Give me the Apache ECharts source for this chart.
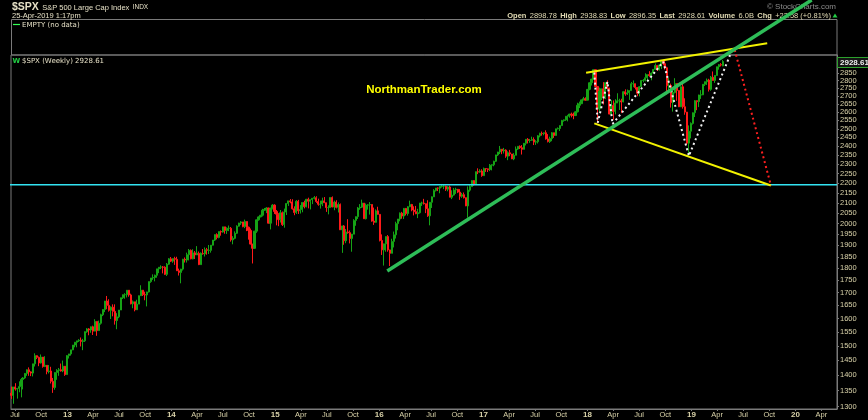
<!DOCTYPE html>
<html><head><meta charset="utf-8">
<script src="https://cdn.jsdelivr.net/npm/echarts@6/dist/echarts.min.js"></script>
<style>html,body{margin:0;padding:0;background:#000}#c{width:868px;height:420px}</style>
</head><body><div id="c"></div>
<script>
// ---- weekly S&P 500 data (weeks starting Monday 2012-06-18) ----
const firstWeek = '2012-06-18';
const firstOpen = 1342;
const lastWeekOpen = 2898.78;
const weeklyClose = [
 1335,1362,1355,1357,1363,1386,1391,1406,1418,1411,1407,1438,1466,1460,1441,1461,1429,1433,1412,1414,1380,1360,1409,1416,1418,1414,1430,1402,
 1466,1472,1486,1503,1513,1518,1520,1516,1518,1551,1561,1557,1569,1553,1589,1555,1582,1614,1634,1667,1650,1631,1643,1627,1592,1606,1632,1680,1692,1692,1710,1691,1656,1664,1633,1655,1688,1710,1692,1691,1703,1745,1760,1762,1771,1798,1805,1806,1805,1775,1818,1841,
 1831,1842,1839,1790,1783,1797,1839,1836,1859,1878,1841,1867,1858,1865,1816,1865,1863,1881,1878,1878,1901,1924,1949,1936,1963,1961,1985,1968,1978,1978,1925,1932,1955,1988,2003,2008,1986,2010,1983,1968,1906,1887,1965,2018,2032,2040,2064,2068,2075,2002,2071,2089,
 2058,2045,2019,2052,1995,2055,2097,2110,2105,2071,2053,2108,2061,2067,2102,2081,2118,2108,2116,2123,2126,2107,2093,2094,2110,2101,2077,2077,2127,2080,2104,2078,2092,1971,1989,1921,1961,1958,1931,1951,2015,2033,2075,2079,2099,2023,2089,2090,2092,2012,2006,2061,2044,
 1922,1880,1907,1940,1880,1865,1918,1948,2000,2022,2050,2036,2073,2048,2081,2092,2065,2057,2047,2052,2099,2099,2096,2071,2037,2103,2130,2162,2175,2174,2183,2184,2184,2169,2180,2128,2139,2165,2168,2154,2133,2141,2126,2085,2164,2182,2213,2192,2260,2258,2264,2239,
 2277,2275,2271,2295,2297,2316,2351,2367,2383,2373,2378,2344,2363,2356,2329,2349,2384,2399,2391,2382,2416,2439,2432,2433,2438,2423,2425,2459,2473,2472,2477,2441,2426,2443,2477,2461,2500,2502,2519,2549,2553,2575,2581,2588,2582,2579,2602,2642,2652,2676,2683,2674,
 2743,2786,2810,2873,2762,2620,2732,2747,2691,2787,2752,2588,2641,2604,2656,2670,2670,2663,2728,2713,2721,2735,2779,2780,2755,2718,2760,2801,2802,2819,2840,2833,2850,2875,2902,2872,2905,2930,2914,2886,2767,2768,2659,2723,2781,2736,2633,2760,2633,2600,2417,2486,
 2532,2596,2671,2665,2707,2708,2776,2793,2804,2743,2822,2801,2834,2893,2907,2905,2928.61
];
const weeklyHigh = [
 1363,1362,1374,1357,1380,1391,1394,1407,1419,1426,1413,1438,1474,1467,1463,1470,1461,1464,1434,1434,1428,1391,1409,1420,1424,1439,1449,1430,
 1468,1472,1486,1503,1514,1518,1524,1530,1525,1552,1564,1564,1570,1573,1597,1589,1592,1618,1635,1667,1687,1674,1646,1654,1654,1620,1632,1680,1693,1698,1710,1709,1696,1669,1664,1672,1689,1730,1711,1704,1704,1745,1760,1775,1774,1798,1805,1813,1810,1809,1823,1844,
 1849,1843,1850,1850,1799,1798,1841,1847,1868,1884,1882,1883,1875,1897,1873,1869,1884,1891,1889,1902,1901,1924,1950,1955,1963,1968,1985,1984,1983,1991,1984,1942,1964,1992,2004,2012,2008,2019,2010,1986,1977,1906,1965,2018,2034,2041,2071,2075,2079,2076,2077,2094,
 2093,2065,2049,2065,2058,2072,2097,2110,2119,2118,2083,2114,2115,2089,2103,2111,2120,2126,2117,2124,2134,2133,2121,2111,2126,2129,2100,2088,2127,2132,2111,2113,2102,2097,1990,1993,1975,2021,1968,1952,2021,2034,2080,2094,2116,2093,2097,2094,2104,2090,2077,2068,2081,
 2038,1950,1908,1940,1947,1881,1930,1963,2009,2022,2053,2056,2075,2075,2084,2111,2095,2083,2085,2071,2100,2106,2120,2091,2113,2103,2132,2169,2175,2178,2183,2194,2191,2187,2184,2187,2163,2175,2176,2170,2169,2150,2152,2126,2183,2189,2214,2215,2260,2278,2273,2273,
 2282,2279,2277,2301,2299,2319,2352,2368,2401,2383,2390,2382,2371,2379,2356,2361,2398,2399,2404,2406,2418,2440,2446,2441,2454,2450,2434,2463,2477,2484,2478,2491,2469,2454,2480,2475,2500,2508,2520,2553,2555,2576,2582,2589,2597,2597,2605,2658,2665,2676,2695,2692,
 2743,2787,2811,2873,2870,2763,2754,2747,2790,2787,2802,2753,2674,2672,2680,2718,2683,2683,2732,2743,2742,2736,2791,2801,2775,2757,2764,2804,2810,2849,2840,2863,2854,2877,2916,2898,2907,2934,2940,2939,2893,2817,2780,2756,2816,2781,2735,2763,2800,2686,2601,2520,
 2538,2598,2675,2672,2709,2738,2776,2794,2814,2812,2831,2861,2836,2893,2911,2918,2938.83
];
const weeklyLow = [
 1324,1309,1350,1325,1345,1329,1354,1388,1398,1398,1397,1396,1429,1454,1430,1439,1425,1427,1403,1406,1373,1343,1353,1385,1398,1412,1410,1398,
 1402,1456,1466,1485,1495,1495,1514,1498,1485,1514,1547,1538,1547,1539,1553,1536,1554,1577,1609,1624,1635,1626,1598,1608,1577,1560,1601,1632,1675,1676,1681,1684,1654,1639,1627,1633,1655,1687,1687,1670,1646,1701,1740,1752,1746,1761,1780,1797,1779,1772,1768,1815,
 1827,1824,1815,1790,1770,1738,1791,1825,1825,1834,1839,1839,1840,1858,1814,1816,1859,1851,1859,1862,1868,1900,1920,1927,1932,1944,1958,1953,1952,1965,1917,1905,1928,1952,1986,1994,1983,1979,1965,1926,1905,1821,1886,1957,2014,2030,2034,2062,2050,2002,1973,2069,
 2046,1992,1988,2005,1989,1981,2041,2085,2098,2067,2040,2046,2046,2048,2054,2073,2078,2073,2068,2094,2117,2100,2086,2072,2084,2099,2056,2044,2077,2078,2064,2073,2053,1970,1867,1903,1910,1953,1909,1872,1951,1990,2022,2066,2075,2022,2020,2067,2043,2009,1994,2005,2043,
 1918,1858,1812,1872,1872,1810,1865,1891,1931,1969,2011,2023,2022,2039,2038,2079,2059,2039,2045,2026,2048,2085,2092,2050,2032,1992,2075,2131,2157,2159,2148,2177,2169,2160,2158,2128,2119,2136,2145,2149,2115,2125,2122,2084,2028,2156,2183,2187,2192,2247,2254,2233,
 2245,2259,2258,2263,2267,2289,2312,2345,2356,2355,2359,2335,2322,2344,2328,2322,2374,2379,2384,2353,2382,2404,2415,2419,2431,2406,2407,2415,2450,2460,2462,2437,2421,2418,2428,2447,2465,2496,2487,2520,2542,2547,2544,2566,2568,2557,2576,2598,2625,2652,2673,2672,
 2683,2737,2768,2808,2759,2533,2605,2675,2647,2681,2742,2586,2594,2553,2586,2660,2613,2594,2661,2702,2707,2676,2735,2757,2742,2699,2698,2770,2789,2795,2791,2826,2802,2848,2876,2864,2868,2877,2903,2874,2711,2724,2628,2603,2717,2670,2631,2631,2621,2584,2409,2347,
 2444,2525,2570,2612,2631,2682,2706,2765,2772,2729,2734,2800,2785,2848,2873,2895,2896.35
];

// ---- axis ticks ----
const priceTicks = [1300,1350,1400,1450,1500,1550,1600,1650,1700,1750,1800,1850,1900,1950,2000,2050,2100,2150,2200,2250,2300,2350,2400,2450,2500,2550,2600,2650,2700,2750,2800,2850,2900];
const dateTicks = ['2012-07-01','2012-10-01','2013-01-01','2013-04-01','2013-07-01','2013-10-01','2014-01-01','2014-04-01','2014-07-01','2014-10-01','2015-01-01','2015-04-01','2015-07-01','2015-10-01','2016-01-01','2016-04-01','2016-07-01','2016-10-01','2017-01-01','2017-04-01','2017-07-01','2017-10-01','2018-01-01','2018-04-01','2018-07-01','2018-10-01','2019-01-01','2019-04-01','2019-07-01','2019-10-01','2020-01-01','2020-04-01'];
const monthNames = ['Jan','Feb','Mar','Apr','May','Jun','Jul','Aug','Sep','Oct','Nov','Dec'];
const xRange = ['2012-06-17','2020-05-26'];
const priceRange = [1293, 2974];

// ---- drawn annotations (date, price) ----
const supportLine = [['2012-05-08',2191],['2020-05-26',2191]];
const greenTrend = [['2016-01-29',1789],['2020-02-27',3385]];
const upperWedge = [['2017-12-27',2853],['2019-09-24',3057]];
const lowerWedge = [['2018-01-25',2532],['2019-10-07',2188]];
const whitePath = [['2018-01-25',2853],['2018-02-06',2536],['2018-03-12',2793],['2018-03-30',2528],['2018-09-24',2927],['2018-12-23',2345],['2019-05-20',2990]];
const redPath = [['2019-06-02',3009],['2019-10-07',2188]];

const UP = '#16a316', DOWN = '#ff1a1a';
const DAY = 86400000;
const t0 = Date.parse(firstWeek);
const candles = weeklyClose.map((c, i) => {
  let o = i === 0 ? firstOpen : weeklyClose[i - 1];
  if (i === weeklyClose.length - 1) o = lastWeekOpen;
  const h = Math.max(weeklyHigh[i], o, c), l = Math.min(weeklyLow[i], o, c);
  const col = c >= o ? UP : DOWN;
  return { value: [t0 + i * 7 * DAY, Math.log(o), Math.log(c), Math.log(l), Math.log(h)],
           itemStyle: { color: col, color0: col, borderColor: col, borderColor0: col, borderColorDoji: col } };
});
const toPts = arr => arr.map(p => [Date.parse(p[0]), Math.log(p[1])]);
const lineSeries = (data, color, width, type, z) => ({
  type: 'line', data: toPts(data), symbol: 'none', clip: false, silent: true, z: z,
  lineStyle: { color: color, width: width, type: type }, animation: false
});

const chart = echarts.init(document.getElementById('c'), null, { renderer: 'canvas' });
const axisColor = '#7a7a7a';
const labelColor = '#d9d2a9';
chart.setOption({
  backgroundColor: '#000',
  animation: false,
  grid: { left: 11, right: 31, top: 55, bottom: 11, show: true, borderColor: axisColor, borderWidth: 1 },
  xAxis: {
    type: 'value', min: Date.parse(xRange[0]), max: Date.parse(xRange[1]),
    splitLine: { show: false },
    axisLine: { onZero: false, lineStyle: { color: axisColor } },
    axisTick: { customValues: dateTicks.map(d => Date.parse(d)), length: 2, lineStyle: { color: axisColor } },
    axisLabel: {
      customValues: dateTicks.map(d => Date.parse(d)), margin: 2,
      formatter: v => { const d = new Date(v); const m = d.getUTCMonth();
        return m === 0 ? '{y|' + String(d.getUTCFullYear()).slice(2) + '}' : '{m|' + monthNames[m] + '}'; },
      rich: {
        y: { color: labelColor, fontSize: 8, fontWeight: 'bold', fontFamily: 'Liberation Sans' },
        m: { color: labelColor, fontSize: 7.5, fontFamily: 'Liberation Sans' }
      }
    }
  },
  yAxis: {
    type: 'value', position: 'right', min: Math.log(priceRange[0]), max: Math.log(priceRange[1]),
    splitLine: { show: false },
    axisLine: { show: true, onZero: false, lineStyle: { color: axisColor } },
    axisTick: { show: true, customValues: priceTicks.map(v => Math.log(v)), length: 2, lineStyle: { color: axisColor } },
    axisLabel: { customValues: priceTicks.map(v => Math.log(v)), formatter: v => String(Math.round(Math.exp(v))),
      color: labelColor, fontSize: 7.5, fontFamily: 'Liberation Sans', margin: 3 }
  },
  series: [
    { type: 'candlestick', data: candles, encode: { x: 0, y: [1, 2, 3, 4] }, barWidth: 1.6, z: 2, large: false,
      itemStyle: { color: UP, color0: DOWN, borderColor: UP, borderColor0: DOWN, borderColorDoji: UP, borderWidth: 1 } },
    lineSeries(supportLine, '#33e3f2', 1.5, 'solid', 3),
    lineSeries(upperWedge, '#f2f200', 2, 'solid', 4),
    lineSeries(lowerWedge, '#f2f200', 2, 'solid', 4),
    lineSeries(whitePath, '#f0f0f0', 2, [2, 3], 5),
    lineSeries(redPath, '#ff2020', 2, [2, 3], 5),
    lineSeries(greenTrend, '#2ebd58', 3.5, 'solid', 6)
  ],
  graphic: [
    { type: 'rect', z: 1, shape: { x: 11.5, y: 19.5, width: 825.5, height: 35.5 }, style: { fill: 'none', stroke: axisColor, lineWidth: 1 } },
    { type: 'text', x: 12, y: 7.5, z: 1, style: { text: '{a|$SPX} {b|S&P 500 Large Cap Index} {c|INDX}', verticalAlign: 'middle',
      rich: { a: { fill: '#e6e0c6', fontSize: 10.5, fontWeight: 'bold', fontFamily: 'Liberation Sans' },
              b: { fill: '#e6e0c6', fontSize: 7.5, fontFamily: 'Liberation Sans' },
              c: { fill: '#e6e0c6', fontSize: 6.5, fontFamily: 'Liberation Sans' } } } },
    { type: 'text', x: 12, y: 16, z: 1, style: { text: '25-Apr-2019 1:17pm', verticalAlign: 'middle', fill: '#e6e0c6', fontSize: 7.5, fontFamily: 'Liberation Sans' } },
    { type: 'text', x: 836, y: 6.5, z: 1, style: { text: '\u00a9 StockCharts.com', align: 'right', verticalAlign: 'middle', fill: '#8c8c8c', fontSize: 8, fontFamily: 'Liberation Sans' } },
    { type: 'text', x: 831, y: 15.5, z: 1, style: { text: '{l|Open} {v|2898.78} {l|High} {v|2938.83} {l|Low} {v|2896.35} {l|Last} {v|2928.61} {l|Volume} {v|6.0B} {l|Chg} {v|+23.58 (+0.81%)}',
      align: 'right', verticalAlign: 'middle',
      rich: { l: { fill: '#e3dcb5', fontSize: 7.5, fontWeight: 'bold', fontFamily: 'Liberation Sans' },
              v: { fill: '#e3dcb5', fontSize: 7.5, fontFamily: 'Liberation Sans' } } } },
    { type: 'polygon', z: 1, shape: { points: [[832.5, 17.5], [837.5, 17.5], [835, 13.5]] }, style: { fill: '#22cc44' } },
    { type: 'line', z: 1, shape: { x1: 13, y1: 24.5, x2: 20, y2: 24.5 }, style: { stroke: '#33ff55', lineWidth: 1.2 } },
    { type: 'text', x: 22, y: 25, z: 1, style: { text: 'EMPTY (no data)', verticalAlign: 'middle', fill: '#e6e0c6', fontSize: 7, fontFamily: 'DejaVu Sans' } },
    { type: 'text', x: 12.5, y: 61, z: 1, style: { text: 'W', verticalAlign: 'middle', fill: '#22cc44', fontSize: 7, fontWeight: 'bold', fontFamily: 'DejaVu Sans' } },
    { type: 'text', x: 22, y: 61, z: 1, style: { text: '$SPX (Weekly) 2928.61', verticalAlign: 'middle', fill: '#e6e0c6', fontSize: 7, fontFamily: 'DejaVu Sans' } },
    { type: 'text', x: 424, y: 90, z: 1, style: { text: 'NorthmanTrader.com', align: 'center', verticalAlign: 'middle', fill: '#ffff00', fontSize: 11.5, fontWeight: 'bold', fontFamily: 'Liberation Sans' } },
    { type: 'rect', z: 100, shape: { x: 837.5, y: 57.5, width: 31, height: 10 }, style: { fill: '#141414', stroke: '#2ca02c', lineWidth: 1 } },
    { type: 'text', z: 101, x: 840, y: 62.5, style: { text: '2928.61', verticalAlign: 'middle', fill: '#eeeeee', fontSize: 8, fontWeight: 'bold', fontFamily: 'Liberation Sans' } }
  ]
});
</script></body></html>
